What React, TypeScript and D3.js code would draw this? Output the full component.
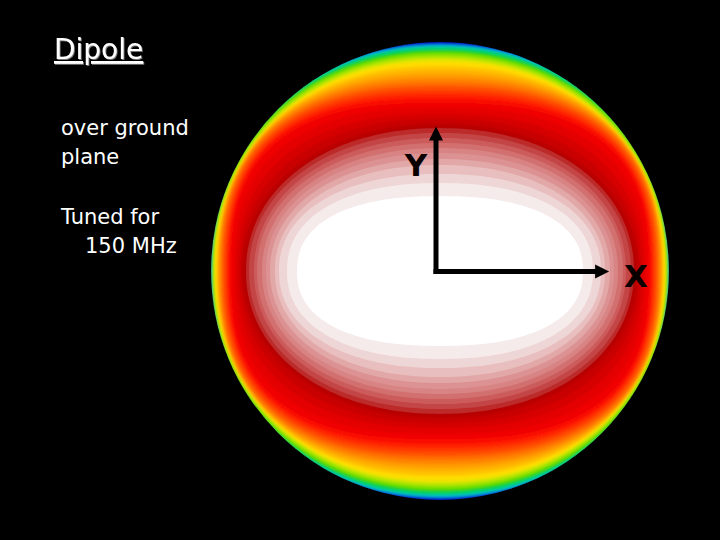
import * as d3 from 'd3';

// radiated field contours, semi-axes as a fraction of the disk radius
const bandExtentX = [
  1.01, 1.0, 1.0, 1.0, 1.0, 1.0, 0.998, 0.996, 0.993, 0.99, 0.986, 0.982, 0.977, 0.972,
  0.968, 0.963, 0.956, 0.948, 0.939, 0.93, 0.924, 0.913, 0.9, 0.886, 0.873, 0.865,
  0.847, 0.834, 0.812, 0.799, 0.777, 0.76, 0.742, 0.721, 0.703, 0.668, 0.624,
];
const bandExtentY = [
  1.01, 0.996, 0.991, 0.987, 0.983, 0.978, 0.969, 0.961, 0.952, 0.939, 0.926, 0.913, 0.895, 0.878,
  0.86, 0.843, 0.825, 0.808, 0.79, 0.773, 0.755, 0.734, 0.712, 0.686, 0.664, 0.642,
  0.624, 0.603, 0.581, 0.559, 0.537, 0.515, 0.489, 0.463, 0.424, 0.384, 0.327,
];
const bandLevels = d3.range(bandExtentX.length);
const firstPinkBand = 26;
const axisLabels = ['X', 'Y'];
const axisReach = [0.756, 0.633];
const titleLines = ['over ground', 'plane'];
const tuneLines = ['Tuned for', '150 MHz'];

const bandColors = [
  '#0000b0', '#0030d0', '#0070e0', '#00a8d8', '#00c8b0', '#00d080', '#10d040', '#40d800', '#80e000',
  '#b8e400', '#e8e400', '#ffdc00', '#ffc400', '#ffb000', '#ff9c00', '#ff8400', '#ff6c00', '#ff5000',
  '#ff3800', '#ff2000', '#fa1000', '#f00000', '#e40000', '#d60000', '#c80000', '#b80000',
  '#bc2a2a', '#c44444', '#cc5c5c', '#d27070', '#d88484', '#dc9292', '#e2a8a8', '#e8bebe', '#efd6d6',
  '#f6ebeb', '#ffffff',
];

const width = 720;
const height = 540;
const cx = 440;
const cy = 271;
const radius = 229;
const originX = 436;
const originY = 271.5;

const rScale = d3.scaleLinear().domain([0, 1]).range([0, radius]);
// contours go from a stadium round the white core, to an ellipse, squarer in the reds, and cross the rim
const exponent = d3
  .scaleLinear()
  .domain([0.327, 0.45, 0.642, 0.686, 0.734, 0.825, 0.926, 1])
  .range([2.35, 2.15, 2.1, 2.4, 2.7, 2.5, 2.15, 2.12]);
const color = d3.scaleOrdinal<number, string>().domain(bandLevels).range(bandColors);
const angles = d3.range(0, Math.PI * 2, Math.PI / 120);
const contour = d3.line().curve(d3.curveLinearClosed);

function bandPath(i: number) {
  const a = rScale(bandExtentX[i]);
  const b = rScale(bandExtentY[i]);
  const n = exponent(bandExtentY[i]);
  const pts = angles.map((t) => {
    const c = Math.cos(t);
    const s = Math.sin(t);
    return [
      cx + a * Math.sign(c) * Math.pow(Math.abs(c), 2 / n),
      cy + b * Math.sign(s) * Math.pow(Math.abs(s), 2 / n),
    ] as [number, number];
  });
  return contour(pts) as string;
}

const textFont = '"DejaVu Sans", sans-serif';

export default function App() {
  const tipX = originX + rScale(axisReach[0]);
  const tipY = originY - rScale(axisReach[1]);
  return (
    <svg
      width={width}
      height={height}
      style={{ position: 'fixed', left: 0, top: 0, background: '#000' }}
    >
      <defs>
        <clipPath id="disk">
          <circle cx={cx} cy={cy} r={radius} />
        </clipPath>
        <filter id="smooth" x="-5%" y="-5%" width="110%" height="110%">
          <feGaussianBlur stdDeviation="1.2" />
        </filter>
        <filter id="soft" x="-5%" y="-5%" width="110%" height="110%">
          <feGaussianBlur stdDeviation="0.4" />
        </filter>
        <filter id="shade" x="-5%" y="-20%" width="115%" height="150%">
          <feDropShadow dx="1" dy="1" stdDeviation="0.4" floodColor="#777" />
        </filter>
      </defs>
      <rect width={width} height={height} fill="#000" />
      <g clipPath="url(#disk)">
        <g filter="url(#smooth)">
          {bandLevels.slice(0, firstPinkBand).map((d) => (
            <path key={d} d={bandPath(d)} fill={color(d)} />
          ))}
        </g>
        <g filter="url(#soft)">
          {bandLevels.slice(firstPinkBand).map((d) => (
            <path key={d} d={bandPath(d)} fill={color(d)} />
          ))}
        </g>
      </g>

      {/* axes */}
      <g fill="#000" stroke="none">
        <rect x={originX - 2.5} y={tipY + 10} width={5} height={originY + 2.5 - tipY - 10} />
        <rect x={originX - 2.5} y={originY - 2.5} width={tipX - 10 - originX} height={5} />
        <path d={`M${originX},${tipY}L${originX + 7},${tipY + 14}L${originX - 7},${tipY + 14}Z`} />
        <path d={`M${tipX},${originY}L${tipX - 14},${originY - 7}L${tipX - 14},${originY + 7}Z`} />
      </g>
      <g fontFamily={textFont} fontWeight="bold" fontSize={31} fill="#0a0000" textAnchor="middle">
        <text x={636} y={287}>{axisLabels[0]}</text>
        <text x={416} y={176}>{axisLabels[1]}</text>
      </g>

      {/* notes */}
      <g fontFamily={textFont} fill="#fff" fontSize={21}>
        <text x={54} y={59} fontSize={28} textDecoration="underline" filter="url(#shade)">Dipole</text>
        {titleLines.map((s, i) => (
          <text key={s} x={61} y={134.5 + i * 29}>{s}</text>
        ))}
        {tuneLines.map((s, i) => (
          <text key={s} x={i === 0 ? 61 : 85} y={224 + i * 29}>{s}</text>
        ))}
      </g>
    </svg>
  );
}
